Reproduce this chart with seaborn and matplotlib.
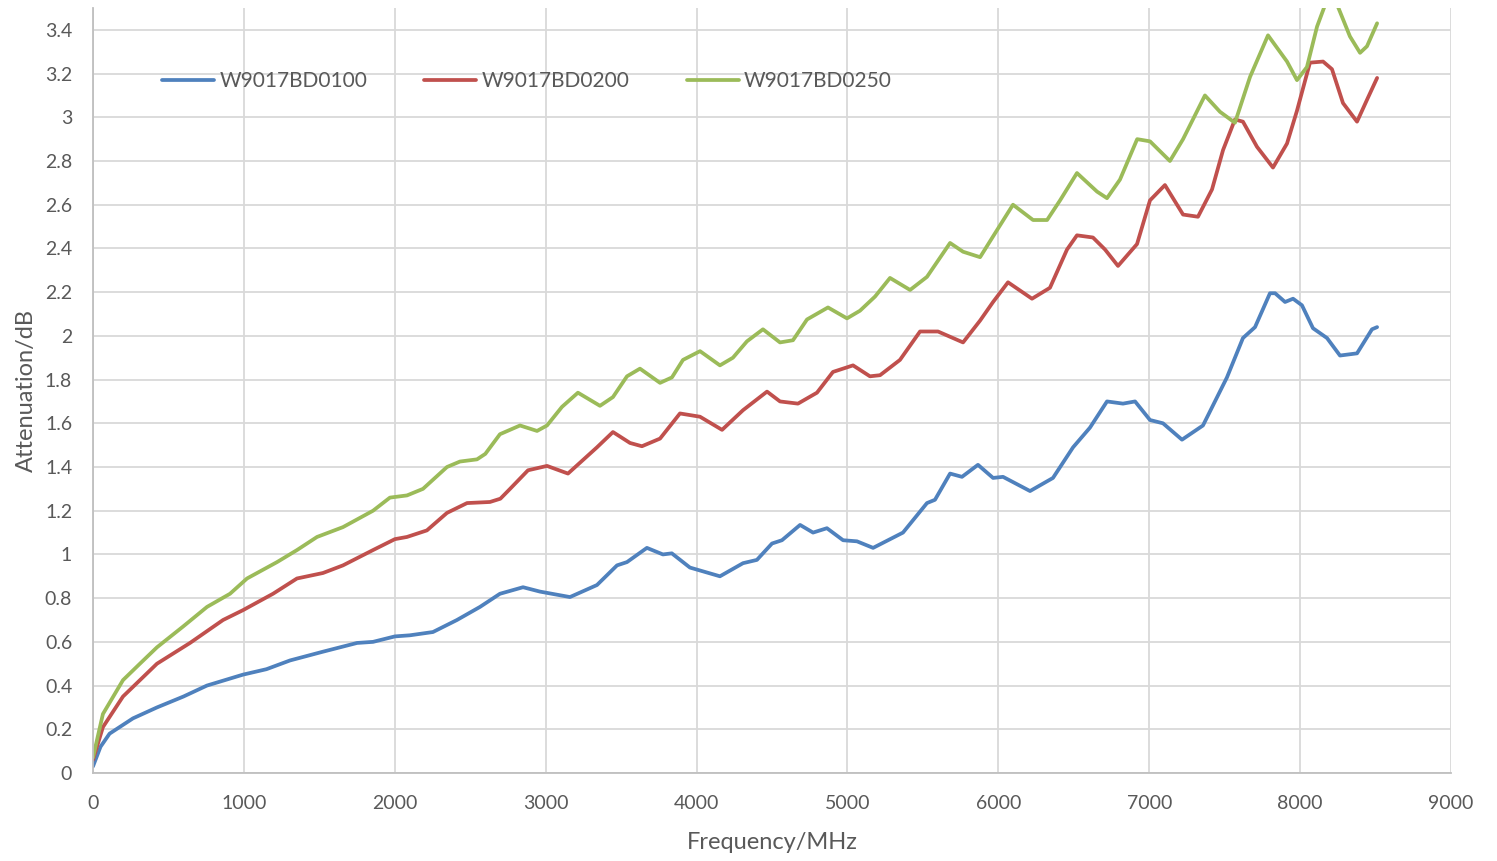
import pandas as pd
import matplotlib.pyplot as plt
import seaborn as sns

# values (frequency in MHz, attenuation in dB)
blue_freq = [0, 50, 110, 265, 424, 600, 755, 994, 1150, 1306, 1524, 1750, 1856, 2001, 2100,
             2253, 2412, 2565, 2697, 2850, 2962, 3161, 3340, 3473, 3539, 3671, 3777, 3836,
             3956, 4155, 4308, 4400, 4500, 4566, 4686, 4772, 4864, 4971, 5063, 5170, 5368,
             5527, 5580, 5680, 5759, 5865, 5965, 6031, 6210, 6362, 6495, 6607, 6720, 6826,
             6906, 7005, 7091, 7217, 7356, 7515, 7621, 7701, 7800, 7834, 7900, 7953, 8012,
             8085, 8178, 8264, 8377, 8476, 8510]
blue_att = [0.03, 0.12, 0.18, 0.25, 0.30, 0.35, 0.40, 0.45, 0.475, 0.515, 0.555, 0.595, 0.60,
            0.625, 0.63, 0.645, 0.70, 0.76, 0.82, 0.85, 0.83, 0.805, 0.86, 0.95, 0.965, 1.03,
            1.0, 1.005, 0.94, 0.90, 0.96, 0.975, 1.05, 1.065, 1.135, 1.10, 1.12, 1.065, 1.06,
            1.03, 1.10, 1.235, 1.25, 1.37, 1.355, 1.41, 1.35, 1.355, 1.29, 1.35, 1.49, 1.58,
            1.70, 1.69, 1.70, 1.615, 1.60, 1.525, 1.59, 1.81, 1.99, 2.04, 2.195, 2.195, 2.155,
            2.17, 2.14, 2.035, 1.99, 1.91, 1.92, 2.03, 2.04]

red_freq = [0, 66, 199, 424, 643, 862, 994, 1193, 1352, 1524, 1657, 1856, 2001, 2081, 2213,
            2346, 2479, 2631, 2700, 2764, 2883, 3009, 3148, 3228, 3340, 3446, 3559, 3638,
            3758, 3890, 4023, 4169, 4308, 4467, 4553, 4672, 4798, 4904, 5037, 5149, 5216,
            5348, 5481, 5600, 5766, 5879, 5965, 6064, 6223, 6342, 6455, 6521, 6627, 6707,
            6793, 6919, 7005, 7104, 7224, 7323, 7416, 7489, 7568, 7621, 7714, 7820, 7913,
            7979, 8065, 8152, 8211, 8284, 8377, 8443, 8510]
red_att = [0.06, 0.21, 0.35, 0.50, 0.595, 0.70, 0.745, 0.82, 0.89, 0.915, 0.95, 1.02, 1.07,
           1.08, 1.11, 1.19, 1.235, 1.24, 1.255, 1.30, 1.385, 1.405, 1.37, 1.42, 1.49, 1.56,
           1.51, 1.495, 1.53, 1.645, 1.63, 1.57, 1.66, 1.745, 1.70, 1.69, 1.74, 1.835, 1.865,
           1.815, 1.82, 1.89, 2.02, 2.02, 1.97, 2.07, 2.155, 2.245, 2.17, 2.22, 2.395, 2.46,
           2.45, 2.395, 2.32, 2.42, 2.62, 2.69, 2.555, 2.545, 2.67, 2.85, 2.99, 2.98, 2.865,
           2.77, 2.88, 3.03, 3.25, 3.255, 3.22, 3.065, 2.98, 3.08, 3.18]

green_freq = [0, 66, 199, 311, 424, 597, 756, 908, 1021, 1220, 1352, 1485, 1657, 1856, 1968,
              2081, 2187, 2346, 2432, 2545, 2600, 2697, 2830, 2943, 3009, 3108, 3214, 3360,
              3446, 3539, 3625, 3758, 3837, 3910, 4023, 4155, 4241, 4334, 4440, 4553, 4639,
              4732, 4871, 4997, 5083, 5183, 5282, 5415, 5527, 5680, 5766, 5879, 5965, 6097,
              6230, 6323, 6409, 6521, 6654, 6720, 6806, 6920, 7005, 7137, 7224, 7369, 7469,
              7568, 7668, 7787, 7913, 7979, 8045, 8112, 8190, 8251, 8330, 8397, 8443, 8510]
green_att = [0.07, 0.27, 0.425, 0.50, 0.575, 0.67, 0.76, 0.82, 0.89, 0.965, 1.02, 1.08, 1.125,
             1.20, 1.26, 1.27, 1.30, 1.40, 1.425, 1.435, 1.46, 1.55, 1.59, 1.565, 1.59, 1.675,
             1.74, 1.68, 1.72, 1.815, 1.85, 1.785, 1.81, 1.89, 1.93, 1.865, 1.90, 1.975, 2.03,
             1.97, 1.98, 2.075, 2.13, 2.08, 2.115, 2.18, 2.265, 2.21, 2.27, 2.425, 2.385, 2.36,
             2.455, 2.60, 2.53, 2.53, 2.62, 2.745, 2.66, 2.63, 2.715, 2.90, 2.89, 2.80, 2.90,
             3.10, 3.025, 2.975, 3.185, 3.375, 3.255, 3.17, 3.23, 3.415, 3.56, 3.505, 3.37,
             3.295, 3.325, 3.43]

names = ['W9017BD0100', 'W9017BD0200', 'W9017BD0250']
colors = ['#4F81BD', '#C0504D', '#9BBB59']

df = pd.concat([
    pd.DataFrame({'Frequency': blue_freq, 'Attenuation': blue_att, 'Cable': names[0]}),
    pd.DataFrame({'Frequency': red_freq, 'Attenuation': red_att, 'Cable': names[1]}),
    pd.DataFrame({'Frequency': green_freq, 'Attenuation': green_att, 'Cable': names[2]}),
])

sns.set_theme(style="whitegrid")
plt.rcParams['font.family'] = ['Lato', 'DejaVu Sans']

fig = plt.figure(figsize=(14.97, 8.61), dpi=100)
ax = fig.add_axes([0.0621, 0.1022, 0.9072, 0.8885])

sns.lineplot(data=df, x='Frequency', y='Attenuation', hue='Cable', palette=colors,
             estimator=None, sort=False, linewidth=2.7, ax=ax)

ax.set_xlim(0, 9000)
ax.set_ylim(0, 3.5)
ax.set_xticks(range(0, 9001, 1000))
ax.set_yticks([i * 0.2 for i in range(18)])
ax.set_yticklabels(['0'] + [f'{i * 0.2:.1f}'.rstrip('0').rstrip('.') for i in range(1, 18)])

ax.set_facecolor('white')
ax.grid(True, color='#d9d9d9', linewidth=1.3)
for side in ['top', 'right']:
    ax.spines[side].set_visible(False)
for side in ['left', 'bottom']:
    ax.spines[side].set_color('#bfbfbf')
    ax.spines[side].set_linewidth(1.3)

ax.tick_params(axis='both', length=0, labelsize=14, labelcolor='#595959')
ax.tick_params(axis='y', pad=15)
ax.tick_params(axis='x', pad=16)

ax.set_xlabel('Frequency/MHz', fontsize=17, color='#595959', labelpad=14)
ax.set_ylabel('Attenuation/dB', fontsize=17, color='#595959', labelpad=6)

ax.legend(loc='center left', bbox_to_anchor=(0.0508, 0.9046), ncol=3, frameon=False,
          fontsize=15, labelcolor='#595959', handlelength=2.5, handletextpad=0.25,
          columnspacing=2.75, borderaxespad=0, borderpad=0)

plt.savefig('out.png', dpi=100)
